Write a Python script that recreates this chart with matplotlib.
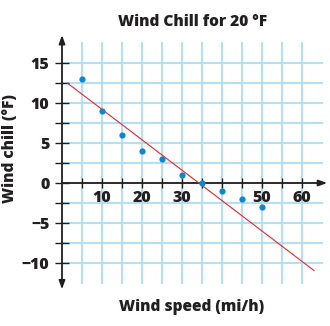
import matplotlib
matplotlib.use("Agg")
import matplotlib.pyplot as plt
import numpy as np

# Wind chill readings for an air temperature of 20 °F
wind_speed = [5, 10, 15, 20, 25, 30, 35, 40, 45, 50]
wind_chill = [13, 9, 6, 4, 3, 1, 0, -1, -2, -3]

# Trend line y = slope * x + intercept, drawn over this span of speeds
trend_slope = -0.38
trend_intercept = 13.0
trend_span = [1.4, 63.0]

x_ticks = [5, 10, 15, 20, 25, 30, 35, 40, 45, 50, 55, 60]
x_tick_labels = ["", "10", "", "20", "", "30", "", "", "", "50", "", "60"]
y_ticks = [-10, -7.5, -5, -2.5, 0, 2.5, 5, 7.5, 10, 12.5, 15]
y_tick_labels = ["\u221210", "", "\u22125", "", "0", "", "5", "", "10", "", "15"]

INK = "#231f20"
GRID = "#a9def6"
DOT = "#0b86d0"
LINE = "#e8262b"
FONT = "Open Sans"
WEIGHT = 800

W, H = 330, 326
fig = plt.figure(figsize=(W / 100, H / 100), dpi=100)
ax = fig.add_axes([62 / W, (H - 283) / H, 260 / W, 240 / H])
ax.set_xlim(0, 65)
ax.set_ylim(-12.5, 17.5)

# graph-paper grid
for gx in range(5, 61, 5):
    ax.plot([gx, gx], [-12.5, 17.5], color=GRID, lw=1.3, zorder=1, clip_on=False)
for gy in y_ticks:
    ax.plot([0, 65], [gy, gy], color=GRID, lw=1.3, zorder=1, clip_on=False)

for s in ax.spines.values():
    s.set_visible(False)
ax.spines["left"].set_position(("data", 0))
ax.spines["bottom"].set_position(("data", 0))

# axis lines with arrowheads
arrow = dict(arrowstyle="-|>,head_length=0.5,head_width=0.18", color=INK, lw=1.3,
             shrinkA=0, shrinkB=0)
ax.annotate("", xy=(66.3, 0), xytext=(0, 0), arrowprops=arrow, annotation_clip=False, zorder=3)
ax.annotate("", xy=(0, 18.5), xytext=(0, 0), arrowprops=arrow, annotation_clip=False, zorder=3)
ax.annotate("", xy=(0, -13.3), xytext=(0, 0), arrowprops=arrow, annotation_clip=False, zorder=3)

ax.set_xticks(x_ticks)
ax.set_xticklabels(x_tick_labels)
ax.set_yticks(y_ticks)
ax.set_yticklabels(y_tick_labels)
ax.tick_params(axis="both", direction="inout", color=INK, width=1.0, labelcolor=INK)
ax.tick_params(axis="x", length=7, pad=1.5)
ax.tick_params(axis="y", length=10, pad=4)
for lab in ax.get_xticklabels() + ax.get_yticklabels():
    lab.set_fontfamily(FONT)
    lab.set_fontweight(WEIGHT)
    lab.set_fontsize(11.5)

# trend line and data points
tx = np.array(trend_span)
ax.plot(tx, trend_slope * tx + trend_intercept, color=LINE, lw=0.8, zorder=4, clip_on=False)
ax.scatter(wind_speed, wind_chill, s=20, color=DOT, zorder=5, clip_on=False, linewidths=0)

fig.text(193 / W, 1 - 22 / H, "Wind Chill for 20 \u00b0F", ha="center", va="center",
         fontfamily=FONT, fontweight=WEIGHT, fontsize=11.2, color=INK)
fig.text(192 / W, 1 - 307 / H, "Wind speed (mi/h)", ha="center", va="center",
         fontfamily=FONT, fontweight=WEIGHT, fontsize=11.2, color=INK)
fig.text(10 / W, 1 - 149 / H, "Wind chill (\u00b0F)", ha="center", va="center", rotation=90,
         fontfamily=FONT, fontweight=WEIGHT, fontsize=11.2, color=INK)

fig.savefig("out.png", dpi=100)
